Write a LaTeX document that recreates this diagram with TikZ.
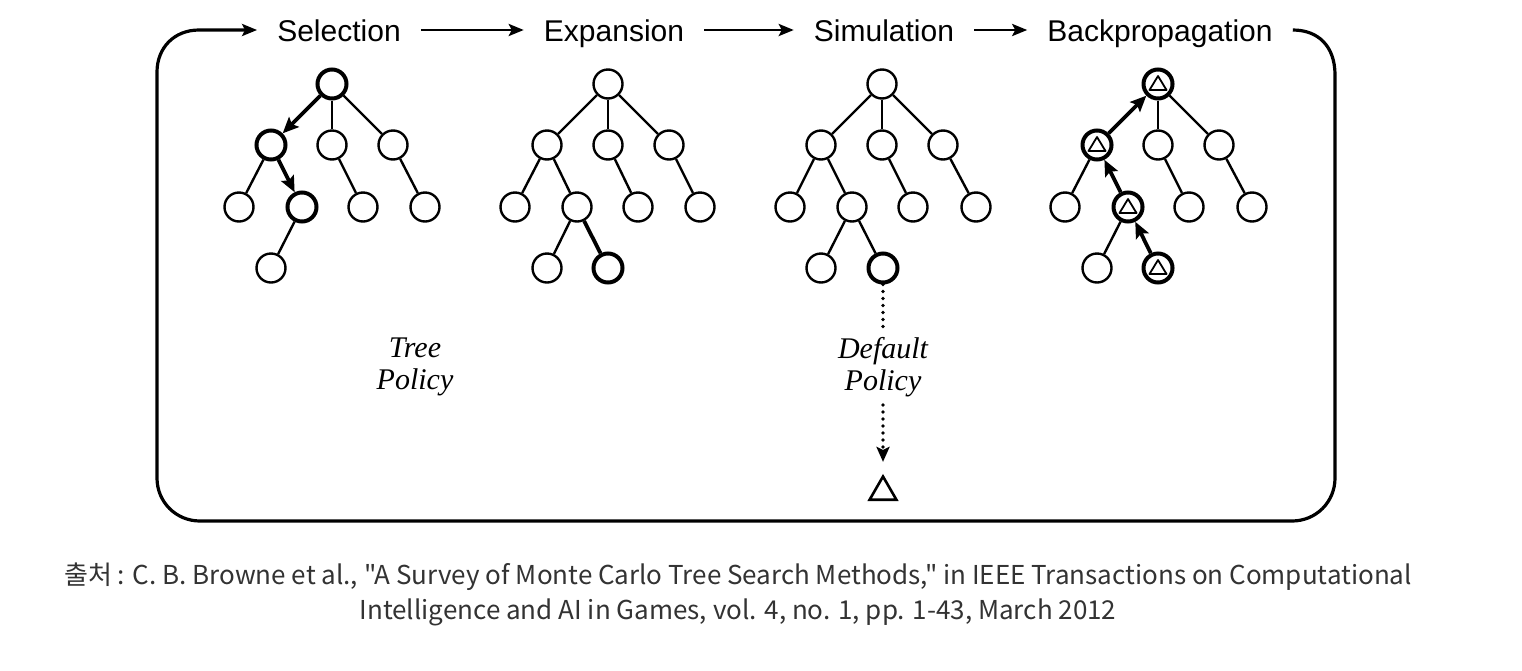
\documentclass[tikz,border=0pt]{standalone}
\usepackage{fontspec}
\setmainfont{Liberation Sans}
\newfontfamily\tnr{Liberation Serif}
\newfontfamily\cjk{Noto Sans CJK KR}
\usetikzlibrary{arrows.meta,shapes.geometric,calc}
\begin{document}
\begin{tikzpicture}[x=1pt,y=-1pt,
  nd/.style={circle,draw,line width=2.4pt,minimum size=29pt,inner sep=0pt},
  bnd/.style={nd,line width=4pt},
  tri/.style={bnd,path picture={\draw[line width=1.8pt,line join=round]
      ($(path picture bounding box.center)+(-8.5pt,-6pt)$) -- ++(17pt,0pt) -- ++(-8.5pt,14pt) -- cycle;}},
  ed/.style={line width=2.4pt},
  bed/.style={line width=3.8pt},
  barr/.style={bed,-{Stealth[length=16pt,width=14pt,inset=3pt]}},
  stage/.style={font=\fontsize{30}{36}\selectfont,inner xsep=20pt,inner ysep=0pt,text height=22pt,text depth=0pt},
  flow/.style={line width=2.8pt,-{Stealth[length=15pt,width=12pt,inset=3pt]}},
  frame/.style={line width=3.2pt},
  pol/.style={font=\tnr\itshape\fontsize{30}{32}\selectfont,align=center,inner sep=8pt},
  dots/.style={line width=3.6pt,line cap=round,dash pattern=on 0pt off 7pt},
]
\fill[white] (0,0) rectangle (1522,670);
\useasboundingbox (0,0) rectangle (1522,670);

% stage labels
\node[stage] (sel) at (339,30) {Selection};
\node[stage] (exp) at (614,30) {Expansion};
\node[stage] (sim) at (884,30) {Simulation};
\node[stage] (bp)  at (1160,30) {Backpropagation};
\draw[flow] (sel) -- (exp);
\draw[flow] (exp) -- (sim);
\draw[flow] (sim) -- (bp);
\draw[frame,-{Stealth[length=15pt,width=12pt,inset=3pt]}]
  (bp.east) .. controls (1318,30) and (1335,46) .. (1335,75)
  -- (1335,478) .. controls (1335,502) and (1316,521) .. (1292,521)
  -- (200,521) .. controls (176,521) and (157,502) .. (157,478)
  -- (157,72) .. controls (157,48) and (174,30) .. (199,30) -- (sel.west);

% Selection tree
\node[bnd] (A) at (332,84) {};
\node[bnd] (A1) at (271,145) {};
\node[nd] (A2) at (332,145) {};
\node[nd] (A3) at (393,145) {};
\node[nd] (A11) at (239,207) {};
\node[bnd] (A12) at (302,207) {};
\node[nd] (A21) at (363,207) {};
\node[nd] (A31) at (425,207) {};
\node[nd] (A121) at (271,268) {};
\draw[barr] (A) -- (A1);
\draw[ed] (A) -- (A2);
\draw[ed] (A) -- (A3);
\draw[ed] (A1) -- (A11);
\draw[barr] (A1) -- (A12);
\draw[ed] (A2) -- (A21);
\draw[ed] (A3) -- (A31);
\draw[ed] (A12) -- (A121);

% Expansion tree
\node[nd] (B) at (608,84) {};
\node[nd] (B1) at (547,145) {};
\node[nd] (B2) at (608,145) {};
\node[nd] (B3) at (669,145) {};
\node[nd] (B11) at (515,207) {};
\node[nd] (B12) at (577,207) {};
\node[nd] (B21) at (638,207) {};
\node[nd] (B31) at (700,207) {};
\node[nd] (B121) at (547,268) {};
\node[bnd] (B122) at (608,268) {};
\draw[ed] (B) -- (B1);
\draw[ed] (B) -- (B2);
\draw[ed] (B) -- (B3);
\draw[ed] (B1) -- (B11);
\draw[ed] (B1) -- (B12);
\draw[ed] (B2) -- (B21);
\draw[ed] (B3) -- (B31);
\draw[ed] (B12) -- (B121);
\draw[bed] (B12) -- (B122);

% Simulation tree
\node[nd] (C) at (882,84) {};
\node[nd] (C1) at (821,145) {};
\node[nd] (C2) at (882,145) {};
\node[nd] (C3) at (943,145) {};
\node[nd] (C11) at (790,207) {};
\node[nd] (C12) at (852,207) {};
\node[nd] (C21) at (913,207) {};
\node[nd] (C31) at (976,207) {};
\node[nd] (C121) at (821,268) {};
\node[bnd] (C122) at (883,268) {};
\draw[ed] (C) -- (C1);
\draw[ed] (C) -- (C2);
\draw[ed] (C) -- (C3);
\draw[ed] (C1) -- (C11);
\draw[ed] (C1) -- (C12);
\draw[ed] (C2) -- (C21);
\draw[ed] (C3) -- (C31);
\draw[ed] (C12) -- (C121);
\draw[ed] (C12) -- (C122);

% Backpropagation tree
\node[tri] (D) at (1158,84) {};
\node[tri] (D1) at (1097,145) {};
\node[nd] (D2) at (1158,145) {};
\node[nd] (D3) at (1219,145) {};
\node[nd] (D11) at (1065,207) {};
\node[tri] (D12) at (1128,207) {};
\node[nd] (D21) at (1189,207) {};
\node[nd] (D31) at (1252,207) {};
\node[nd] (D121) at (1097,268) {};
\node[tri] (D122) at (1158,268) {};
\draw[barr] (D1) -- (D);
\draw[ed] (D) -- (D2);
\draw[ed] (D) -- (D3);
\draw[ed] (D1) -- (D11);
\draw[barr] (D12) -- (D1);
\draw[ed] (D2) -- (D21);
\draw[ed] (D3) -- (D31);
\draw[ed] (D12) -- (D121);
\draw[barr] (D122) -- (D12);

% policies
\node[pol] (tp) at (415,367) {Tree\\Policy};
\node[pol] (dp) at (883,367) {Default\\Policy};
\node[draw,regular polygon,regular polygon sides=3,minimum size=31pt,inner sep=0pt,line width=2.6pt] (term) at (883,492) {};
\draw[dots] (C122) -- (dp);
\draw[dots,shorten >=12pt,-{Stealth[length=15pt,width=13pt,inset=3pt]}] (dp) -- (term);

% caption
\node[font=\cjk\fontsize{26}{35}\selectfont,text=black!80,align=center] (cap) at (738,594)
  {출처 : C. B. Browne et al., "A Survey of Monte Carlo Tree Search Methods," in IEEE Transactions on Computational\\
   Intelligence and AI in Games, vol. 4, no. 1, pp. 1-43, March 2012};
\end{tikzpicture}
\end{document}
